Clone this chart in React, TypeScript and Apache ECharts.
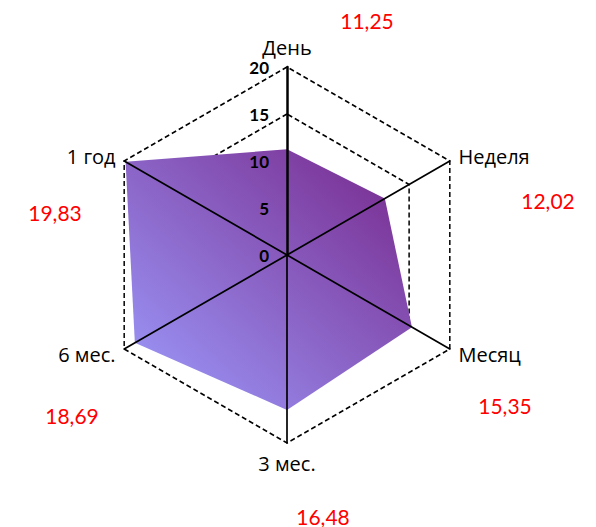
import React, { useEffect, useRef } from "react";
import * as echarts from "echarts";

const categories = ["День", "Неделя", "Месяц", "3 мес.", "6 мес.", "1 год"];
const values = [11.25, 12.02, 15.35, 16.48, 18.69, 19.83];
const axisMax = 20;
const tickLabels = ["0", "5", "10", "15", "20"];

// layout for the outside value labels (pixel positions)
const valueLabelPos = [
  [367, 20],
  [548, 200],
  [505, 405],
  [323, 516],
  [72, 415],
  [55, 212],
];

// ECharts radar runs counter-clockwise; reorder so categories go clockwise
const order = [0, 5, 4, 3, 2, 1];

export default function App() {
  const ref = useRef<HTMLDivElement>(null);
  useEffect(() => {
    if (!ref.current) return;
    const chart = echarts.init(ref.current, null, { renderer: "svg" });
    const font = "Lato, 'Noto Sans', sans-serif";
    const nameFont = "'Open Sans', 'Noto Sans', sans-serif";
    const base = {
      center: [287, 255],
      radius: 188,
      startAngle: 90,
      splitNumber: tickLabels.length - 1,
      shape: "polygon",
      axisTick: { show: false },
      splitArea: { show: false },
    };
    chart.setOption({
      animation: false,
      backgroundColor: "#ffffff",
      radar: [
        {
          // grid rings, below the filled area
          ...base,
          z: 0,
          indicator: order.map((k) => ({ name: categories[k], min: 0, max: axisMax })),
          axisName: { show: false },
          axisLine: { show: false },
          axisLabel: { show: false },
          splitLine: {
            show: true,
            lineStyle: { color: "#000000", width: 1.5, type: [5, 3] },
          },
        },
        {
          // spokes, tick labels and names, above the filled area
          ...base,
          z: 3,
          nameGap: 10,
          axisName: { color: "#000000", fontSize: 20, fontFamily: nameFont },
          indicator: order.map((k, i) =>
            i === 0
              ? {
                  name: categories[k],
                  min: 0,
                  max: axisMax,
                  axisLabel: {
                    show: true,
                    color: "#000000",
                    fontSize: 17,
                    fontWeight: "bold",
                    fontFamily: font,
                    margin: 18,
                  },
                  axisLine: { lineStyle: { color: "#000000", width: 2.5 } },
                }
              : { name: categories[k], min: 0, max: axisMax }
          ),
          axisLine: { show: true, lineStyle: { color: "#000000", width: 1.7 } },
          axisLabel: { show: false },
          splitLine: { show: false },
        },
      ],
      graphic: values.map((v, i) => ({
        type: "text",
        x: valueLabelPos[i][0],
        y: valueLabelPos[i][1],
        style: {
          text: v.toFixed(2).replace(".", ","),
          fill: "#ff0000",
          fontSize: 21,
          fontFamily: font,
          align: "center",
          verticalAlign: "middle",
        },
      })),
      series: [
        {
          type: "radar",
          radarIndex: 0,
          symbol: "none",
          z: 1,
          lineStyle: { width: 0 },
          areaStyle: {
            opacity: 1,
            color: new echarts.graphic.LinearGradient(1, 0, 0, 1, [
              { offset: 0, color: "#772589" },
              { offset: 1, color: "#9D9EFF" },
            ]),
          },
          data: [{ value: order.map((k) => values[k]), name: "Values" }],
        },
      ],
    });
    return () => chart.dispose();
  }, []);
  return (
    <div
      ref={ref}
      style={{ position: "fixed", left: 0, top: 0, width: 596, height: 527 }}
    />
  );
}
